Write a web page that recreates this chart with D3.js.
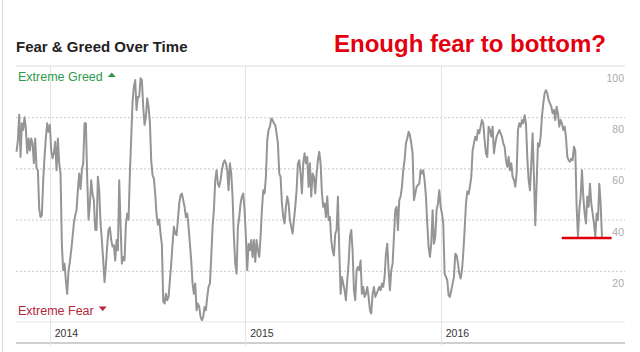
<!DOCTYPE html>
<html>
<head>
<meta charset="utf-8">
<script src="https://cdn.jsdelivr.net/npm/d3@7"></script>
<style>
  body { margin: 0; background: #fff; }
  svg { display: block; font-family: 'Liberation Sans', Arial, sans-serif; }
</style>
</head>
<body>
<div id="chart"></div>
<script>
const seriesStart = '2013-10-31';
const seriesEnd = '2016-10-28';
const fearGreedValues = [
  66.5, 71, 81, 64.5, 77.6, 75, 80, 75.6, 66, 71.7, 67, 71.7, 69.8, 62, 71.7, 60, 59.3, 44.3, 41, 41.7,
  55.4, 64.5, 72, 77.6, 74.3, 77, 67, 64, 66, 70.4, 59.3, 71.7, 62, 58, 30, 20.2, 22.8, 16, 11, 20.2,
  23.5, 28, 33.2, 38.5, 41.7, 43.7, 51.5, 58, 52, 59.3, 62, 77.6, 77.6, 56, 40, 46, 55.4, 50, 47.6, 36,
  35.9, 56.7, 51.5, 38.5, 32, 24, 15.6, 22, 30, 36, 37, 32, 29.5, 30, 24, 32, 28, 55.4, 38, 22.8,
  25.4, 24, 38, 42.4, 40, 58, 72, 86, 92, 94.5, 82.8, 88, 88, 95.2, 94.5, 84, 77, 80, 87.4, 84,
  78, 63, 57.4, 56, 50, 42, 38, 40, 34.5, 30, 8,
  7.2, 11, 8.5, 9.8, 16.3, 22.8, 30.6, 37.2, 34.5, 33.9, 39.8, 46.3, 49.5, 50.2, 47.6, 45, 41, 42.4, 37.2, 30.6,
  24, 15, 11, 15, 4.6, 7.2, 5.9, 2, 0.7, 2, 5.9, 4.6, 9.8, 13.7, 15, 25.4, 37.2, 43.7, 55.4, 59.3,
  54, 52.8, 55.4, 59.3, 62, 63.2, 62, 59.3, 51.5, 62, 58, 49, 33.2, 22.8, 18.9, 37.2, 41, 46.3, 49, 50.2,
  43.7, 33.2, 20.2, 30.6, 28, 32, 25.4, 32, 23.5, 32, 28, 25.4, 33.2, 43.7, 51.5, 50.2, 56.7, 71, 75, 76.3,
  79.5, 78.9, 77.6, 76.9, 73.7, 69.8, 58, 56.7, 46.3, 41, 38.5, 45, 49, 46.3, 39.8, 37.2, 34.5, 39.8, 45, 51.5,
  62, 63.2, 58, 50.2, 62, 65.9, 62, 64.5, 52.8, 62,
  49, 58, 56.7, 50.2, 58, 63.2, 66.5, 62, 50.2, 45, 46.3, 41, 49, 39.8, 41, 32, 28, 26, 34.5, 35.9,
  49, 28, 11, 17.6, 15, 12.4, 8.5, 16.3, 22.8, 33.2, 35.9, 28, 12.4, 8.5, 20.2, 21.5, 20.2, 24, 11, 13.7,
  9.8, 11, 13.7, 9.8, 4.6, 3.3, 11, 13.7, 9.8, 11, 12.4, 13.7, 12.4, 15, 13.7, 17.6, 26.7, 30.6, 20.2, 12.4,
  20.2, 22.8, 33.2, 43.7, 45, 35.9, 47.6, 49, 52.8, 59.3, 63.2, 69.8, 71.7, 74.3, 73, 69.8, 65.9, 47.6, 50.2, 52.8,
  53.5, 54, 59.3, 58, 59.3, 55.4, 49, 38.5, 29.3, 25.4, 30.6, 43.7, 30.6, 33.2, 43.7, 46.3, 51.5, 45, 42.4, 38.5,
  18.9, 17.6, 16.3, 10.4, 9.8, 12.4, 15, 17.6, 26.7,
  26, 23, 19, 17, 20, 27, 36, 46, 51, 50, 53, 56.7, 67, 69.8, 72.4, 71, 75, 73.7, 76.3, 78.9,
  77.6, 71, 65.9, 64.5, 76.3, 75, 72.4, 76.3, 65.9, 69.8, 72.4, 73.7, 75, 73.7, 72.4, 69.8, 68.5, 63.2, 60.6, 64.5,
  59.3, 62, 56.7, 55.4, 52.8, 58, 75, 77.6, 76.3, 78.9, 77.6, 80.8, 77.6, 64.5, 55.4, 51.5, 62, 73.7, 56.7, 37.8,
  54, 69.8, 68.5, 72.4, 80.2, 85.4, 89.3, 90.6, 89.3, 86.7, 85.4, 84.1, 81.5, 82.8, 78.9, 84.1, 81.5, 76.3, 78.9, 77.6,
  75, 76.3, 72.4, 64.5, 63.2, 62.6, 63.8, 63.2, 68.5, 67, 45, 33.2, 43.7, 49, 59.3, 49, 42.4, 38.5, 49, 45,
  54, 46.3, 42.4, 38.5, 33.2, 42.4, 39.8, 54, 46.3, 33.2
];

const axisDomain = ['2013-10-30', '2016-12-10'];
const yearTicks = ['2014-01-01', '2015-01-01', '2016-01-01'];
const yearLabels = ['2014', '2015', '2016'];
const yTicks = [20, 40, 60, 80];
const yLabels = [20, 40, 60, 80, 100];
const bottomMark = { start: '2016-08-14', end: '2016-11-15', value: 32.8 };

const chartTitle = 'Fear & Greed Over Time';
const annotation = 'Enough fear to bottom?';

const W = 640, H = 352;
const plotLeft = 16, plotRight = 625, plotTop = 66, plotBottom = 322;

const parse = d3.timeParse('%Y-%m-%d');

const svg = d3.select('#chart').append('svg')
    .attr('width', W)
    .attr('height', H);

svg.append('rect').attr('width', W).attr('height', H).attr('fill', '#fff');

// card edge on the left
svg.append('line')
    .attr('x1', 2.5).attr('x2', 2.5).attr('y1', 0).attr('y2', H)
    .attr('stroke', '#d8d8d8');

const x = d3.scaleTime()
    .domain(axisDomain.map(parse))
    .range([plotLeft, plotRight]);

const y = d3.scaleLinear()
    .domain([0, 100])
    .range([plotBottom, plotTop]);

const t0 = parse(seriesStart), t1 = parse(seriesEnd);
const step = (t1 - t0) / (fearGreedValues.length - 1);
const data = fearGreedValues.map((v, i) => ({ date: new Date(+t0 + i * step), value: v }));

// header
svg.append('text')
    .attr('x', 16).attr('y', 52)
    .style('font-size', '15px')
    .style('font-weight', 'bold')
    .attr('fill', '#222')
    .text(chartTitle);

svg.append('text')
    .attr('x', 334).attr('y', 52)
    .style('font-size', '24px')
    .style('font-weight', 'bold')
    .attr('fill', '#e3000f')
    .text(annotation);

// frame lines
svg.append('line')
    .attr('x1', plotLeft).attr('x2', plotRight).attr('y1', y(100)).attr('y2', y(100))
    .attr('stroke', '#dcdcdc');
svg.append('line')
    .attr('x1', plotLeft).attr('x2', plotRight).attr('y1', y(0)).attr('y2', y(0))
    .attr('stroke', '#e6e6e6');
svg.append('line')
    .attr('x1', plotLeft).attr('x2', plotRight).attr('y1', 343).attr('y2', 343)
    .attr('stroke', '#cfcfcf').attr('stroke-width', 2);

// dotted gridlines
svg.append('g').selectAll('line')
    .data(yTicks)
    .enter().append('line')
    .attr('x1', plotLeft).attr('x2', plotRight)
    .attr('y1', d => y(d) + 0.5).attr('y2', d => y(d) + 0.5)
    .attr('stroke', '#c8c8c8')
    .attr('stroke-dasharray', '2,2');

// year lines and labels
const years = yearTicks.map(parse);
svg.append('g').selectAll('line')
    .data(years)
    .enter().append('line')
    .attr('x1', d => Math.round(x(d)) + 0.5).attr('x2', d => Math.round(x(d)) + 0.5)
    .attr('y1', y(100)).attr('y2', 346)
    .attr('stroke', '#e4e4e4');

svg.append('g').selectAll('text')
    .data(years)
    .enter().append('text')
    .attr('x', d => x(d) + 5)
    .attr('y', 337)
    .style('font-size', '10.5px')
    .attr('fill', '#333')
    .text((d, i) => yearLabels[i]);

// value labels on the right, under each line
svg.append('g').selectAll('text')
    .data(yLabels)
    .enter().append('text')
    .attr('x', 624)
    .attr('y', d => y(d) + 16)
    .attr('text-anchor', 'end')
    .style('font-size', '10.5px')
    .attr('fill', '#aaa')
    .text(d => d);

// extreme labels with little flat triangles
function extremeLabel(label, yPos, color, up) {
    const t = svg.append('text')
        .attr('x', 18).attr('y', yPos)
        .style('font-size', '12.5px')
        .attr('fill', color)
        .text(label);
    const end = 18 + t.node().getComputedTextLength() + 5;
    const w = 8, h = 4.5, base = yPos - 4;
    const pts = up
        ? [[end, base], [end + w, base], [end + w / 2, base - h]]
        : [[end, base - h], [end + w, base - h], [end + w / 2, base]];
    svg.append('path')
        .attr('d', d3.line()(pts) + 'Z')
        .attr('fill', color);
}
extremeLabel('Extreme Greed', 81, '#2f9a4c', true);
extremeLabel('Extreme Fear', 315, '#b3263b', false);

// index line
const line = d3.line()
    .x(d => x(d.date))
    .y(d => y(d.value));

svg.append('path')
    .datum(data)
    .attr('d', line)
    .attr('fill', 'none')
    .attr('stroke', '#959595')
    .attr('stroke-width', 2)
    .attr('stroke-linejoin', 'round');

// red "bottom" marker
svg.append('line')
    .attr('x1', x(parse(bottomMark.start)))
    .attr('x2', x(parse(bottomMark.end)))
    .attr('y1', y(bottomMark.value))
    .attr('y2', y(bottomMark.value))
    .attr('stroke', '#e0000b')
    .attr('stroke-width', 2.6);
</script>
</body>
</html>
